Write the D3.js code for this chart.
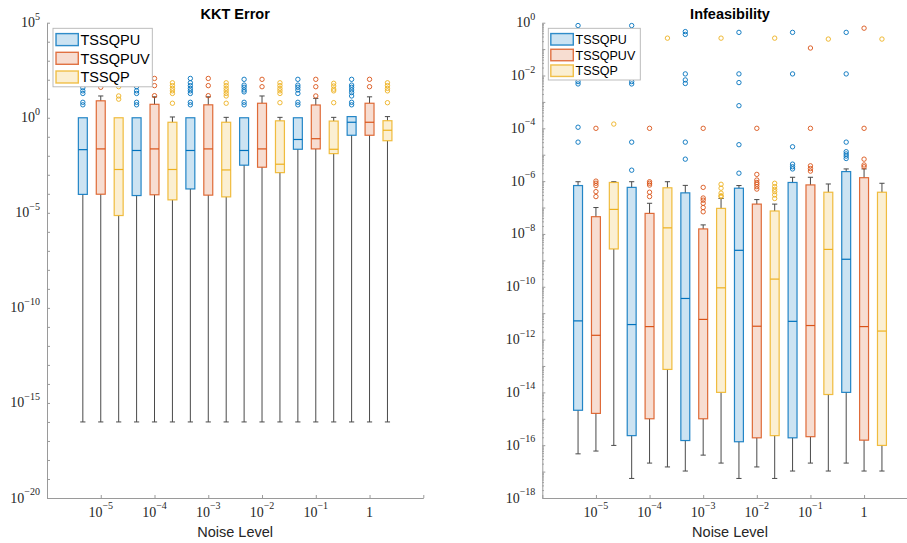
<!DOCTYPE html>
<html><head><meta charset="utf-8">
<script src="https://cdn.jsdelivr.net/npm/d3@7"></script>
<style>body{margin:0;background:#fff;} svg{display:block;}</style>
</head><body>
<svg id="chart" width="907" height="543"></svg>
<script>
// ---------- categories / labels ----------
const categories = ["1e-5", "1e-4", "1e-3", "1e-2", "1e-1", "1"];
const xTickExponents = [-5, -4, -3, -2, -1, 0];
const seriesNames = ["TSSQPU", "TSSQPUV", "TSSQP"];
const seriesColors = ["#0072BD", "#D95319", "#EDB120"];
const seriesFills = ["#cce3f2", "#f7ddd1", "#fbefd2"];

// ---------- KKT Error (left panel) ----------
const kkt_U_low  = [1e-16, 1e-16, 1e-16, 1e-16, 1e-16, 1e-16];
const kkt_U_q1   = [9.3e-5, 8.1e-5, 1.8e-4, 3.2e-3, 2.2e-2, 0.12];
const kkt_U_med  = [2.1e-2, 1.9e-2, 1.9e-2, 1.9e-2, 7.2e-2, 0.58];
const kkt_U_q3   = [1, 1, 1, 1, 1, 1.15];
const kkt_U_high = [1, 1, 1, 1, 1, 1.15];
const kkt_U_out  = [[105, 38, 26, 19, 6.5, 4.8], [105, 43, 26, 19, 6.5, 4.8], [117, 69, 49, 35, 26, 19, 6.5, 4.8],
                    [105, 52, 40, 29, 23, 6.5, 4.8], [105, 52, 40, 29, 19, 6.5, 4.8], [105, 52, 40, 29, 21, 14, 6.5, 4.8]];

const kkt_V_low  = [1e-16, 1e-16, 1e-16, 1e-16, 1e-16, 1e-16];
const kkt_V_q1   = [9.5e-5, 8.9e-5, 8.5e-5, 2.5e-3, 2.3e-2, 0.12];
const kkt_V_med  = [2.3e-2, 2.3e-2, 2.3e-2, 2.3e-2, 7.9e-2, 0.58];
const kkt_V_q3   = [7.8, 5.1, 4.8, 5.8, 4.7, 5.8];
const kkt_V_high = [14, 12.6, 12.6, 14, 10.5, 12.6];
const kkt_V_out  = [[105, 40], [117, 49, 14.5], [117, 49, 14.5], [105, 43], [105, 43, 14], [105, 43]];

const kkt_P_low  = [1e-16, 1e-16, 1e-16, 1e-16, 1e-16, 1e-16];
const kkt_P_q1   = [7.2e-6, 4.8e-5, 6.9e-5, 1.3e-3, 1.3e-2, 6.2e-2];
const kkt_P_med  = [1.9e-3, 1.9e-3, 1.8e-3, 3.6e-3, 2.2e-2, 0.22];
const kkt_P_q3   = [1, 0.58, 0.58, 0.69, 0.67, 0.70];
const kkt_P_high = [1, 1.1, 1.05, 1.05, 1.05, 1.15];
const kkt_P_out  = [[69, 43, 14, 9.5], [69, 49, 35, 26, 19, 5.8], [69, 49, 35, 26, 19, 14, 5.8],
                    [69, 49, 35, 26, 19, 6.2], [65, 47, 32, 26, 6.2], [69, 49, 35, 26, 6.2]];

// ---------- Infeasibility (right panel) ----------
const inf_U_low  = [4.7e-17, 5.5e-18, 1.05e-17, 5.5e-18, 1.05e-17, 2.1e-17];
const inf_U_q1   = [2.1e-15, 2.3e-16, 1.5e-16, 1.35e-16, 1.9e-16, 1e-14];
const inf_U_med  = [5.1e-12, 3.7e-12, 3.6e-11, 2.4e-9, 4.9e-12, 1.1e-9];
const inf_U_q3   = [6.8e-7, 5.8e-7, 3.6e-7, 5.4e-7, 8.9e-7, 2.3e-6];
const inf_U_high = [9.5e-7, 9.5e-7, 6.9e-7, 6.8e-7, 1.4e-6, 2.9e-6];
const inf_U_out  = [[0.78, 5.9e-3, 4.8e-3, 1.1e-4, 3.0e-5], [0.78, 5.9e-3, 4.8e-3, 3.0e-5, 2.6e-6],
                    [0.46, 0.36, 1.15e-2, 6.8e-3, 5.0e-3, 3.0e-5, 6.8e-6], [0.43, 1.15e-2, 5.4e-3, 7.2e-4, 2.4e-5, 2.0e-6],
                    [0.43, 1.15e-2, 2.0e-5, 4.4e-6, 3.5e-6, 2.9e-6], [0.43, 1.15e-2, 3.0e-5, 1.3e-5, 1.07e-5, 8.9e-6, 7.2e-6]];

const inf_V_low  = [6.0e-17, 2.1e-17, 4.2e-17, 1.5e-17, 2.1e-17, 1.05e-17];
const inf_V_q1   = [1.6e-15, 1.0e-15, 1.0e-15, 1.9e-16, 2.1e-16, 1.55e-16];
const inf_V_med  = [1.45e-12, 3.1e-12, 5.8e-12, 3.2e-12, 3.4e-12, 3.1e-12];
const inf_V_q3   = [4.5e-8, 6.0e-8, 1.55e-8, 1.35e-7, 7.2e-7, 1.35e-6];
const inf_V_high = [1.0e-7, 1.45e-7, 2.2e-8, 2.0e-7, 1.4e-6, 2.9e-6];
const inf_V_out  = [[1e-4, 1.0e-6, 8.3e-7, 6.8e-7, 4.0e-7, 2.6e-7], [1e-4, 9.5e-7, 8.3e-7, 7.1e-7, 3.8e-7, 2.6e-7],
                    [1e-4, 5.8e-7, 2.3e-7, 1.9e-7, 1.45e-7, 1.0e-7, 6.9e-8], [1e-4, 1.8e-6, 1.1e-6, 8.9e-7, 7.6e-7, 6.2e-7, 5.0e-7],
                    [0.11, 1e-4, 3.8e-6, 3.0e-6, 2.4e-6], [0.62, 1e-4, 6.8e-6, 4.1e-6, 3.5e-6]];

const inf_P_low  = [9.8e-17, 1.5e-17, 2.1e-17, 5.5e-18, 1.05e-17, 1.05e-17];
const inf_P_q1   = [2.7e-9, 7.4e-14, 1.0e-14, 2.3e-16, 8.3e-15, 9.8e-17];
const inf_P_med  = [8.5e-8, 1.7e-8, 9.1e-11, 1.95e-10, 2.6e-9, 2.1e-12];
const inf_P_q3   = [8.9e-7, 5.6e-7, 9.3e-8, 7.4e-8, 3.8e-7, 3.8e-7];
const inf_P_high = [9.5e-7, 9.5e-7, 2.2e-7, 1.35e-7, 7.8e-7, 8.3e-7];
const inf_P_out  = [[1.45e-4], [0.26], [0.26, 7.6e-7, 5.4e-7, 3.5e-7, 2.8e-7, 2.6e-7],
                    [0.26, 8.3e-7, 6.2e-7, 4.9e-7, 4.0e-7, 3.0e-7, 2.2e-7], [0.24], [0.24]];

// ---------- drawing ----------
const svg = d3.select("#chart");
const sans = "'Liberation Sans', Arial, Helvetica, sans-serif";
const serif = "'Liberation Serif', 'Times New Roman', serif";
const axisColor = "#9a9a9a";
const textColor = "#262626";
const whiskerColor = "#4a4a4a";

function powLabel(g, x, y, e, anchor, fs, sfs, oneForZero) {
  const t = g.append("text").attr("x", x).attr("y", y)
    .attr("text-anchor", anchor).attr("font-family", serif)
    .attr("font-size", fs).attr("fill", textColor);
  if (e === 0 && oneForZero) { t.text("1"); return; }
  t.append("tspan").text("10");
  t.append("tspan").attr("dy", -7.5).attr("font-size", sfs)
    .text(e < 0 ? "\u2212" + (-e) : String(e));
}

function panel(cfg) {
  const g = svg.append("g");
  const x = d3.scaleLinear().domain([0, 7]).range(cfg.xRange);
  const y = d3.scaleLog().domain(cfg.yDomain).range(cfg.yRange);

  // axes (ticks inward)
  const decades = d3.range(cfg.eMin, cfg.eMax + 1).map(e => Math.pow(10, e));
  g.append("g").attr("transform", `translate(${cfg.xRange[0]},0)`)
    .call(d3.axisLeft(y).tickValues(decades).tickSize(-3).tickSizeOuter(0).tickFormat(""));
  if (cfg.minor) {
    const minors = [];
    for (let e = cfg.eMin; e < cfg.eMax; e++) for (let k = 2; k <= 9; k++) minors.push(k * Math.pow(10, e));
    g.append("g").attr("transform", `translate(${cfg.xRange[0]},0)`)
      .call(d3.axisLeft(y).tickValues(minors).tickSize(-1.6).tickSizeOuter(0).tickFormat(""))
      .call(s => s.select(".domain").remove());
  }
  g.append("g").attr("transform", `translate(0,${cfg.yRange[0]})`)
    .call(d3.axisBottom(x).tickValues(d3.range(0, 8)).tickSize(-3).tickSizeOuter(0).tickFormat(""));
  g.selectAll(".domain, .tick line").attr("stroke", axisColor).attr("stroke-width", 1);

  // y tick labels
  for (let e = cfg.eMin; e <= cfg.eMax; e++) {
    if ((e - cfg.eMin) % cfg.labelEvery !== 0) continue;
    powLabel(g, cfg.xRange[0] - 7, y(Math.pow(10, e)) + 4.5, e, "end", 14, 10, false);
  }
  // x tick labels
  xTickExponents.forEach((e, i) => powLabel(g, x(i + 1), 516.5, e, "middle", 14, 10, true));

  // axis label & title
  const cxp = (cfg.xRange[0] + cfg.xRange[1]) / 2;
  g.append("text").attr("x", cxp).attr("y", 536.5).attr("text-anchor", "middle")
    .attr("font-family", sans).attr("font-size", 14.5).attr("fill", textColor).text("Noise Level");
  g.append("text").attr("x", cxp).attr("y", 18.5).attr("text-anchor", "middle")
    .attr("font-family", sans).attr("font-weight", "bold").attr("font-size", 14.5)
    .attr("fill", "#000").text(cfg.title);

  // boxes
  const bw = x(1 / 6) - x(0);
  const cap = 2.6;
  cfg.series.forEach((s, si) => {
    const col = seriesColors[si];
    categories.forEach((c, i) => {
      const cx = x(i + 1 + (si - 1) / 3);
      // whiskers
      g.append("line").attr("x1", cx).attr("x2", cx).attr("y1", y(s.q3[i])).attr("y2", y(s.high[i]))
        .attr("stroke", whiskerColor).attr("stroke-width", 1);
      g.append("line").attr("x1", cx).attr("x2", cx).attr("y1", y(s.q1[i])).attr("y2", y(s.low[i]))
        .attr("stroke", whiskerColor).attr("stroke-width", 1);
      if (s.high[i] > s.q3[i] * 1.0001)
        g.append("line").attr("x1", cx - cap).attr("x2", cx + cap).attr("y1", y(s.high[i])).attr("y2", y(s.high[i]))
          .attr("stroke", whiskerColor).attr("stroke-width", 1);
      g.append("line").attr("x1", cx - cap).attr("x2", cx + cap).attr("y1", y(s.low[i])).attr("y2", y(s.low[i]))
        .attr("stroke", whiskerColor).attr("stroke-width", 1);
      // box
      g.append("rect").attr("x", cx - bw / 2).attr("width", bw)
        .attr("y", y(s.q3[i])).attr("height", y(s.q1[i]) - y(s.q3[i]))
        .attr("fill", seriesFills[si]).attr("stroke", col).attr("stroke-width", 1.2).attr("stroke-opacity", 0.85);
      // median
      g.append("line").attr("x1", cx - bw / 2).attr("x2", cx + bw / 2)
        .attr("y1", y(s.med[i])).attr("y2", y(s.med[i]))
        .attr("stroke", col).attr("stroke-width", 1.2);
      // outliers
      s.out[i].forEach(v => {
        g.append("circle").attr("cx", cx).attr("cy", y(v)).attr("r", 2.2)
          .attr("fill", "none").attr("stroke", col).attr("stroke-width", 0.9);
      });
    });
  });

  // legend
  const L = cfg.legend;
  g.append("rect").attr("x", L.x).attr("y", L.y).attr("width", L.w).attr("height", L.h)
    .attr("fill", "#fff").attr("stroke", "#b5b5b5").attr("stroke-width", 0.9);
  seriesNames.forEach((n, si) => {
    const cy = L.rows[si];
    g.append("rect").attr("x", L.px).attr("y", cy - L.ph / 2).attr("width", L.pw).attr("height", L.ph)
      .attr("fill", seriesFills[si]).attr("stroke", seriesColors[si]).attr("stroke-width", 1.4).attr("stroke-opacity", 0.8);
    g.append("text").attr("x", L.tx).attr("y", cy + L.fs * 0.36).attr("font-family", sans)
      .attr("font-size", L.fs).attr("fill", "#000").text(n);
  });
}

panel({
  title: "KKT Error",
  xRange: [47, 423.3], yDomain: [1e-20, 1e5], yRange: [498, 22.7],
  eMin: -20, eMax: 5, labelEvery: 5, minor: false,
  series: [
    { low: kkt_U_low, q1: kkt_U_q1, med: kkt_U_med, q3: kkt_U_q3, high: kkt_U_high, out: kkt_U_out },
    { low: kkt_V_low, q1: kkt_V_q1, med: kkt_V_med, q3: kkt_V_q3, high: kkt_V_high, out: kkt_V_out },
    { low: kkt_P_low, q1: kkt_P_q1, med: kkt_P_med, q3: kkt_P_q3, high: kkt_P_high, out: kkt_P_out }
  ],
  legend: { x: 53, y: 28.3, w: 99.3, h: 58.5, rows: [39.6, 58.3, 77], px: 56, pw: 22.3, ph: 12, tx: 80.5, fs: 14.5 }
});

panel({
  title: "Infeasibility",
  xRange: [542.3, 917.7], yDomain: [1e-18, 1], yRange: [498, 22.7],
  eMin: -18, eMax: 0, labelEvery: 2, minor: true,
  series: [
    { low: inf_U_low, q1: inf_U_q1, med: inf_U_med, q3: inf_U_q3, high: inf_U_high, out: inf_U_out },
    { low: inf_V_low, q1: inf_V_q1, med: inf_V_med, q3: inf_V_q3, high: inf_V_high, out: inf_V_out },
    { low: inf_P_low, q1: inf_P_q1, med: inf_P_med, q3: inf_P_q3, high: inf_P_high, out: inf_P_out }
  ],
  legend: { x: 548.3, y: 28.3, w: 92, h: 51.7, rows: [39.3, 55, 70.7], px: 550.8, pw: 22.5, ph: 11.5, tx: 575.5, fs: 12.5 }
});
</script>
</body></html>
